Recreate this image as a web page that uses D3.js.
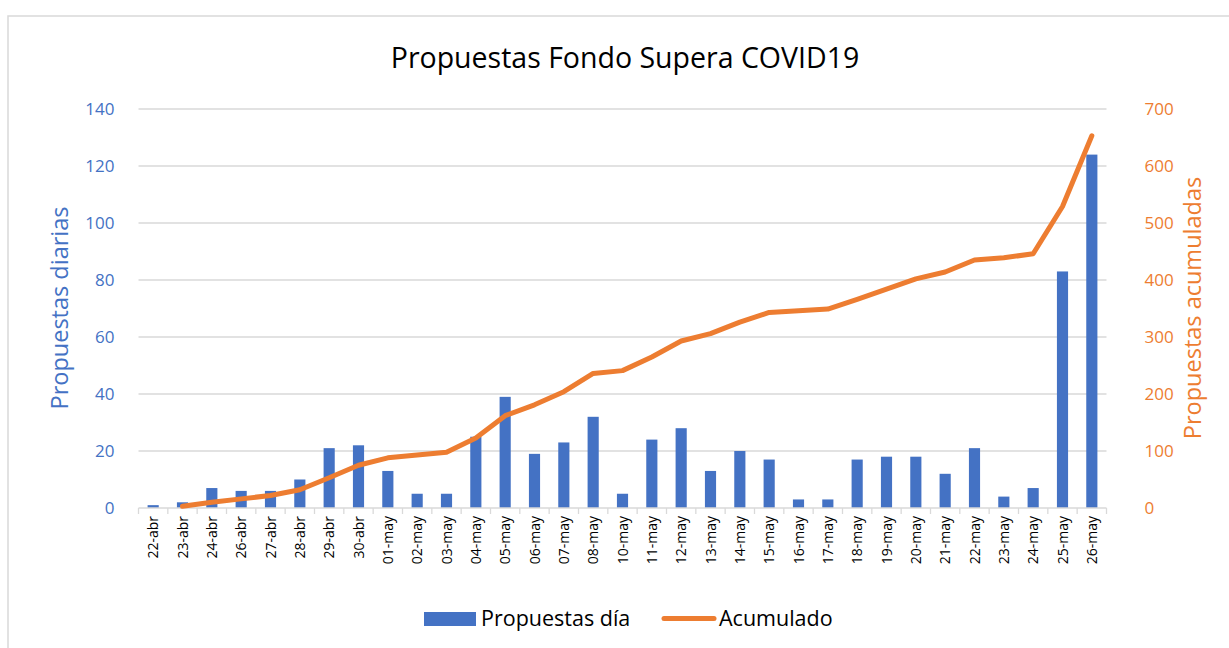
<!DOCTYPE html>
<html><head><meta charset="utf-8">
<script src="https://cdn.jsdelivr.net/npm/d3@7"></script>
<style>body{margin:0;background:#fff}svg{display:block}text{font-family:"Open Sans",sans-serif}</style>
</head><body>
<svg id="c" width="1229" height="648"></svg>
<script>
const categories = ["22-abr","23-abr","24-abr","26-abr","27-abr","28-abr","29-abr","30-abr","01-may","02-may","03-may","04-may","05-may","06-may","07-may","08-may","10-may","11-may","12-may","13-may","14-may","15-may","16-may","17-may","18-may","19-may","20-may","21-may","22-may","23-may","24-may","25-may","26-may"];
const daily = [1,2,7,6,6,10,21,22,13,5,5,25,39,19,23,32,5,24,28,13,20,17,3,3,17,18,18,12,21,4,7,83,124];
const cumulative = [null,3,10,16,22,32,53,75,88,93,98,123,162,181,204,236,241,265,293,306,326,343,346,349,366,384,402,414,435,439,446,529,653];
const leftTicks = [0,20,40,60,80,100,120,140];
const rightTicks = [0,100,200,300,400,500,600,700];

const BLUE = "#4472C4", ORANGE = "#ED7D31", GRID = "#d9d9d9";
const svg = d3.select("#c");
const L = 138.5, R = 1106.5, T = 109, B = 508;

svg.append("rect").attr("x",8).attr("y",16).attr("width",1240).attr("height",660)
  .attr("fill","none").attr("stroke",GRID).attr("stroke-width",1.5);

const x = d3.scaleBand().domain(categories).range([L,R]).paddingInner(0.62).paddingOuter(0.31);
const xb = d3.scaleBand().domain(categories).range([L,R]);
const yL = d3.scaleLinear().domain([0,140]).range([B,T]);
const yR = d3.scaleLinear().domain([0,700]).range([B,T]);

// grid
svg.append("g").selectAll("line").data(leftTicks.slice(1)).join("line")
  .attr("x1",L).attr("x2",R).attr("y1",d=>yL(d)).attr("y2",d=>yL(d))
  .attr("stroke",GRID).attr("stroke-width",1.3);

// left axis labels
const gl = svg.append("g").attr("transform",`translate(${L-24},0)`)
  .call(d3.axisLeft(yL).tickValues(leftTicks).tickSize(0).tickPadding(0));
gl.select(".domain").remove();
gl.selectAll("text").attr("fill",BLUE).style("font-size","17px").style("font-family","Open Sans");

const gr = svg.append("g").attr("transform",`translate(${R+38},0)`)
  .call(d3.axisRight(yR).tickValues(rightTicks).tickSize(0).tickPadding(0));
gr.select(".domain").remove();
gr.selectAll("text").attr("fill",ORANGE).style("font-size","17px").style("font-family","Open Sans");

// bars
svg.append("g").selectAll("rect").data(daily).join("rect")
  .attr("x",(d,i)=>x(categories[i])).attr("width",x.bandwidth())
  .attr("y",d=>yL(d)).attr("height",d=>B-yL(d))
  .attr("fill",BLUE);

// x axis
const gx = svg.append("g").attr("transform",`translate(0,${B})`);
gx.append("line").attr("x1",L).attr("x2",R).attr("stroke",GRID).attr("stroke-width",1.3);
gx.selectAll("line.t").data(categories.concat(["__end"])).join("line").attr("class","t")
  .attr("x1",(d,i)=>L+i*xb.step()).attr("x2",(d,i)=>L+i*xb.step()).attr("y1",0).attr("y2",6)
  .attr("stroke",GRID).attr("stroke-width",1.3);
gx.selectAll("text").data(categories).join("text")
  .attr("transform",d=>`translate(${xb(d)+xb.bandwidth()/2+5},8) rotate(-90)`)
  .attr("text-anchor","end").attr("fill","#000").style("font-size","14px").text(d=>d);

// line
const line = d3.line().defined(d=>d!=null)
  .x((d,i)=>xb(categories[i])+xb.bandwidth()/2).y(d=>yR(d));
svg.append("path").datum(cumulative).attr("d",line)
  .attr("fill","none").attr("stroke",ORANGE).attr("stroke-width",5).attr("stroke-linejoin","round").attr("stroke-linecap","round");

// title
svg.append("text").attr("x",625).attr("y",68).attr("text-anchor","middle")
  .style("font-size","28.5px").attr("fill","#000").text("Propuestas Fondo Supera COVID19");

// axis titles
svg.append("text").attr("transform","translate(68,308) rotate(-90)").attr("text-anchor","middle")
  .style("font-size","23.5px").attr("fill",BLUE).text("Propuestas diarias");
svg.append("text").attr("transform","translate(1201,308) rotate(-90)").attr("text-anchor","middle")
  .style("font-size","23.5px").attr("fill",ORANGE).text("Propuestas acumuladas");

// legend
const lg = svg.append("g");
lg.append("rect").attr("x",424).attr("y",612).attr("width",52).attr("height",14).attr("fill",BLUE);
lg.append("text").attr("x",481).attr("y",626).style("font-size","21.5px").attr("fill","#000").text("Propuestas día");
lg.append("line").attr("x1",664).attr("x2",714).attr("y1",618.5).attr("y2",618.5)
  .attr("stroke",ORANGE).attr("stroke-width",5).attr("stroke-linecap","round");
lg.append("text").attr("x",719).attr("y",626).style("font-size","21.5px").attr("fill","#000").text("Acumulado");
</script>
</body></html>
